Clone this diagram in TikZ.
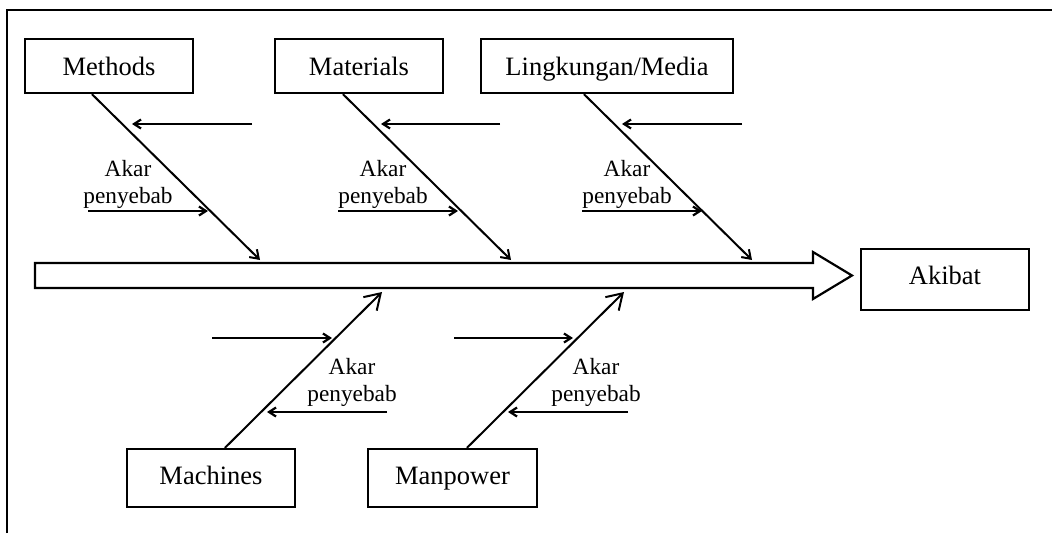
\documentclass[tikz,border=0pt]{standalone}
\usepackage{fontspec}
\setmainfont{Liberation Serif}
\usetikzlibrary{arrows.meta}

\begin{document}
\begin{tikzpicture}[x=1pt,y=-1pt,
  box/.style={draw,line width=2.2pt,inner sep=0pt,text height=18pt,text depth=0pt,
    font=\fontsize{26.5}{30}\selectfont},
  bone/.style={line width=2pt,-{Straight Barb[length=8pt,width=11pt]}},
  bigbone/.style={line width=2pt,-{Straight Barb[length=15pt,width=19pt]}},
  twig/.style={line width=2.2pt,-{Straight Barb[length=7pt,width=9pt]}},
  cause/.style={align=center,inner sep=0pt,font=\fontsize{23.3}{27}\selectfont}]
  \useasboundingbox (0,0) rectangle (1052,533);
  % frame
  \draw[line width=2.4pt] (7,533) -- (7,10) -- (1052,10);
  % head
  \draw[line width=2.2pt] (35,263) -- (813,263) -- (813,252) -- (852,275.5)
    -- (813,299) -- (813,288) -- (35,288) -- cycle;
  \node[box,text depth=9pt,minimum width=168pt,minimum height=61pt] (akibat) at (945,279.5) {Akibat};
  % top categories
  \node[box,minimum width=168pt,minimum height=54pt] (methods) at (109,66) {Methods};
  \node[box,minimum width=168pt,minimum height=54pt] (materials) at (359,66) {Materials};
  \node[box,minimum width=252pt,minimum height=54pt] (media) at (607,66) {Lingkungan/Media};
  % bottom categories
  \node[box,text depth=6pt,minimum width=168pt,minimum height=58pt] (machines) at (211,478) {Machines};
  \node[box,text depth=6pt,minimum width=169pt,minimum height=58pt] (manpower) at (452.5,478) {Manpower};
  % where the bones meet the spine
  \coordinate (methods end) at (260,260);
  \coordinate (materials end) at (511,260);
  \coordinate (media end) at (752,260);
  \coordinate (machines end) at (382,292);
  \coordinate (manpower end) at (624,292);
  \draw[bone] ([xshift=68pt]methods.south west) -- (methods end);
  \draw[bone] ([xshift=69pt]materials.south west) -- (materials end);
  \draw[bone] ([xshift=104pt]media.south west) -- (media end);
  \draw[bigbone] ([xshift=99pt]machines.north west) -- (machines end);
  \draw[bigbone] ([xshift=100pt]manpower.north west) -- (manpower end);
  % root causes
  \node[cause] (akar1) at (128,184) {Akar\\penyebab};
  \node[cause] (akar2) at (383,184) {Akar\\penyebab};
  \node[cause] (akar3) at (627,184) {Akar\\penyebab};
  \node[cause] (akar4) at (352,382) {Akar\\penyebab};
  \node[cause] (akar5) at (596,382) {Akar\\penyebab};
  \coordinate (m1) at (252,124); \coordinate (m2) at (132,124);
  \coordinate (m3) at (88,211);  \coordinate (m4) at (208,211);
  \coordinate (t1) at (500,124); \coordinate (t2) at (381,124);
  \coordinate (t3) at (338,211); \coordinate (t4) at (458,211);
  \coordinate (l1) at (742,124); \coordinate (l2) at (622,124);
  \coordinate (l3) at (582,211); \coordinate (l4) at (702,211);
  \coordinate (c1) at (212,338); \coordinate (c2) at (332,338);
  \coordinate (c3) at (387,412); \coordinate (c4) at (267,412);
  \coordinate (p1) at (454,338); \coordinate (p2) at (573,338);
  \coordinate (p3) at (628,412); \coordinate (p4) at (508,412);
  \draw[twig] (m1) -- (m2);
  \draw[twig] (m3) -- (m4);
  \draw[twig] (t1) -- (t2);
  \draw[twig] (t3) -- (t4);
  \draw[twig] (l1) -- (l2);
  \draw[twig] (l3) -- (l4);
  \draw[twig] (c1) -- (c2);
  \draw[twig] (c3) -- (c4);
  \draw[twig] (p1) -- (p2);
  \draw[twig] (p3) -- (p4);
\end{tikzpicture}
\end{document}
